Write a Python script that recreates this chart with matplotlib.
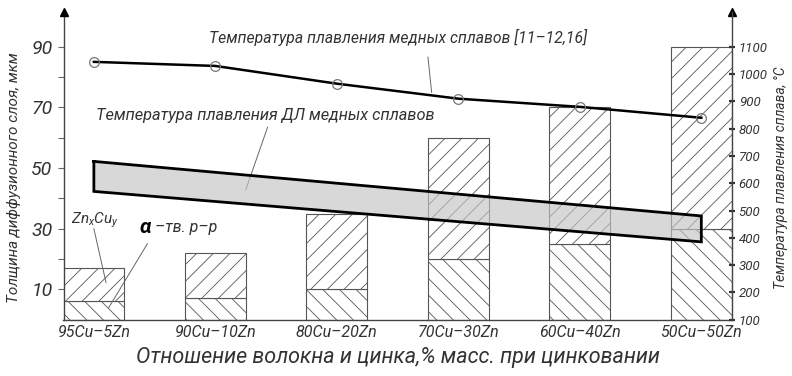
import matplotlib
matplotlib.use("Agg")
import matplotlib.pyplot as plt
from matplotlib import font_manager
import numpy as np

# ---- data ----
alloys = ["95Cu–5Zn", "90Cu–10Zn", "80Cu–20Zn", "70Cu–30Zn", "60Cu–40Zn", "50Cu–50Zn"]
layer_total = [17, 22, 35, 60, 70, 90]        # total diffusion layer thickness, um
layer_alpha = [6, 7, 10, 20, 25, 30]          # alpha solid solution part, um
melt_temp = [1045, 1030, 965, 910, 880, 840]  # melting point of copper alloys, C
band_x = [0, 5]                               # fibre-zinc alloy melting range ends
band_top = [680, 480]
band_bottom = [570, 385]

left_ticks = [10, 30, 50, 70, 90]
left_minor = [20, 40, 60, 80]
right_ticks = [100, 200, 300, 400, 500, 600, 700, 800, 900, 1000, 1100]

# ---- fonts ----
avail = {f.name for f in font_manager.fontManager.ttflist}
fam = [f for f in ["Liberation Sans Narrow", "Roboto", "DejaVu Sans"] if f in avail]
plt.rcParams["font.family"] = fam
plt.rcParams["font.style"] = "italic"
plt.rcParams["mathtext.fontset"] = "custom"
plt.rcParams["mathtext.rm"] = fam[0] + ":italic"
plt.rcParams["mathtext.it"] = fam[0] + ":italic"
plt.rcParams["hatch.linewidth"] = 0.6
plt.rcParams["hatch.color"] = "#808080"

TXT = "#333333"

fig = plt.figure(figsize=(7.92, 3.76), dpi=100)
L, R = 63.5 / 792, 731.7 / 792
B, T = (376 - 319.6) / 376, (376 - 12) / 376
ax = fig.add_axes([L, B, R - L, T - B])
ax2 = ax.twinx()

y_top = 101.5
ax.set_xlim(-0.25, 5.25)
ax.set_ylim(0, y_top)
# right axis: 100 C at the baseline, 1100 C level with 90 um
ax2.set_ylim(100, 100 + y_top * 1000 / 90)

x = np.arange(len(alloys))
w = 0.5
upper = [t - a for t, a in zip(layer_total, layer_alpha)]

ax.bar(x, layer_alpha, width=w, facecolor="white", edgecolor="#555555",
       linewidth=0.8, hatch="\\\\", zorder=2)
ax.bar(x, upper, bottom=layer_alpha, width=w, facecolor="white",
       edgecolor="#555555", linewidth=0.8, hatch="//", zorder=2)

# melting range band of fibre alloys
ax2.fill_between(band_x, band_bottom, band_top, facecolor="#c4c4c4",
                 alpha=0.65, edgecolor="none", zorder=3)
ax2.plot([band_x[0], band_x[1], band_x[1], band_x[0], band_x[0]],
         [band_top[0], band_top[1], band_bottom[1], band_bottom[0], band_top[0]],
         color="black", lw=2.0, zorder=4, solid_joinstyle="miter")

# melting point curve
ax2.plot(x, melt_temp, color="black", lw=1.8, zorder=5)
ax2.plot(x, melt_temp, linestyle="none", marker="o", markersize=7,
         markerfacecolor="none", markeredgecolor="#777777", markeredgewidth=0.9,
         zorder=6)

# ---- axes styling ----
for a in (ax, ax2):
    a.spines["top"].set_visible(False)
    a.patch.set_visible(False)
ax.spines["right"].set_visible(False)
ax2.spines["left"].set_visible(False)
ax2.spines["bottom"].set_visible(False)
for sp in (ax.spines["left"], ax.spines["bottom"], ax2.spines["right"]):
    sp.set_color("#444444")
    sp.set_linewidth(1.0)

ax.set_xticks(x)
ax.set_xticklabels(alloys, fontsize=11.5, color=TXT)
ax.tick_params(axis="x", length=0, pad=4)

ax.set_yticks(left_ticks)
ax.set_yticks(left_minor, minor=True)
ax.set_yticklabels([str(v) for v in left_ticks], fontsize=14, color=TXT)
ax.tick_params(axis="y", which="both", direction="out", length=4, width=0.8,
               color="#666666", pad=4)

ax2.set_yticks(right_ticks)
ax2.set_yticklabels([str(v) for v in right_ticks], fontsize=9.5, color=TXT)
ax2.tick_params(axis="y", direction="inout", length=4, width=1.6,
                color="#333333", pad=3)

# arrowheads on the vertical axes
for xa in (0, 1):
    ax.plot([xa], [1.0], marker="^", markersize=6, color="black",
            transform=ax.transAxes, clip_on=False, zorder=10)

ax.set_ylabel("Толщина диффузионного слоя, мкм", fontsize=11, color=TXT)
ax.yaxis.set_label_coords(-0.063, 0.46)
ax2.set_ylabel("Температура плавления сплава, °С", fontsize=10, color=TXT,
               rotation=90)
ax2.yaxis.set_label_coords(1.063, 0.46)
ax.set_xlabel("Отношение волокна и цинка,% масс. при цинковании",
              fontsize=15.5, color=TXT, labelpad=5)

# ---- annotations ----
lead = dict(color="#666666", lw=0.7)
ax.text(0.95, 93, "Температура плавления медных сплавов [11–12,16]",
        fontsize=11.3, color=TXT, va="center", ha="left", zorder=7)
ax.plot([2.75, 2.78], [86.6, 75.0], **lead, zorder=7)

ax.text(0.02, 67.5, "Температура плавления ДЛ медных сплавов",
        fontsize=11.8, color=TXT, va="center", ha="left", zorder=7)
ax.plot([1.43, 1.25], [63.5, 42.8], **lead, zorder=7)

ax.text(-0.19, 32.6, r"Zn$_{x}$Cu$_{y}$", fontsize=11, color=TXT,
        va="center", ha="left", zorder=7)
ax.plot([0.0, 0.10], [30.0, 12.2], **lead, zorder=7)

ax.text(0.38, 30.5, "α", fontsize=15, color="black", fontweight="bold",
        va="center", ha="left", zorder=7)
ax.text(0.5, 30.5, "–тв. р–р", fontsize=11.5, color=TXT,
        va="center", ha="left", zorder=7)
ax.plot([0.44, 0.12], [25.0, 3.8], **lead, zorder=7)

fig.savefig("out.png", dpi=100)
